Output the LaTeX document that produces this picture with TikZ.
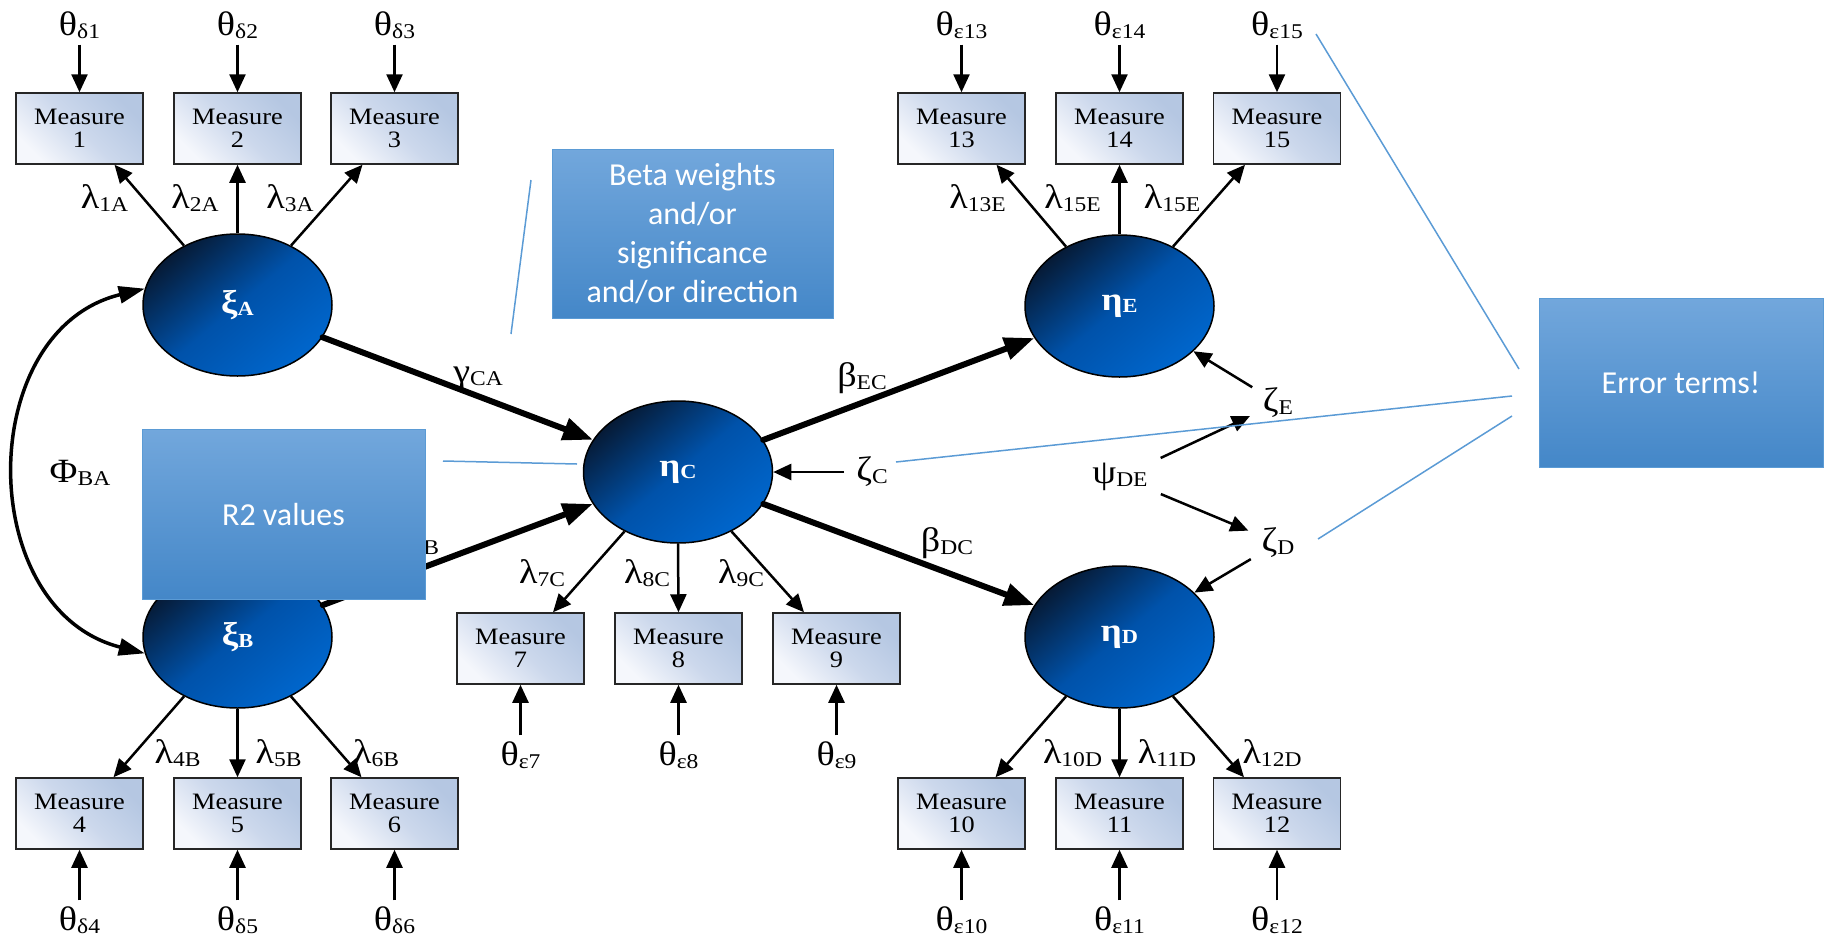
\documentclass[tikz,border=0pt]{standalone}
\usepackage{fontspec}
\setmainfont{Liberation Serif}[FakeStretch=1.12]
\newfontfamily\callfont{Carlito}
\usetikzlibrary{shapes.geometric,arrows.meta}

\definecolor{ellDark}{HTML}{061A35}
\definecolor{ellMid}{HTML}{0052AA}
\definecolor{ellBlue}{HTML}{0066CC}
\definecolor{boxTop}{HTML}{B5C7E2}
\definecolor{boxMid}{HTML}{CCD8EC}
\definecolor{boxBot}{HTML}{F5F7FC}
\definecolor{noteTop}{HTML}{72A7DC}
\definecolor{noteBot}{HTML}{4487C8}
\definecolor{noteEdge}{HTML}{5B9BD5}

% Greek symbol with a subscript, plain and bold
\newcommand\gsym[2]{{\fontsize{34}{34}\selectfont #1}\raisebox{-3pt}{\fontsize{21}{21}\selectfont #2}}
\newcommand\gbold[2]{{\fontsize{33}{33}\selectfont\bfseries #1}\raisebox{-2pt}{\fontsize{20}{20}\selectfont\bfseries #2}}

\begin{document}
\begin{tikzpicture}[x=1pt, y=-1pt,
  latent/.style={ellipse, draw=black, line width=1.5pt, minimum width=189pt,
    minimum height=142pt, inner sep=0pt, top color=ellDark, bottom color=ellBlue,
    middle color=ellMid, shading angle=40, text=white},
  measure/.style={rectangle, draw=black!85, line width=1.5pt, minimum width=127pt,
    minimum height=71pt, inner sep=0pt, top color=boxTop, bottom color=boxBot,
    middle color=boxMid, shading angle=-45, align=center,
    font=\fontsize{23.5}{23}\selectfont},
  lbl/.style={inner sep=2pt},
  ld/.style={-{Triangle[length=18pt,width=16pt]}, line width=2.5pt},
  structarrow/.style={-{Triangle[length=30pt,width=22pt]}, line width=6pt, line cap=round},
  covarrow/.style={{Triangle[length=26pt,width=17pt]}-{Triangle[length=26pt,width=17pt]}, line width=3.5pt},
  notebox/.style={rectangle, draw=noteEdge, line width=1pt, top color=noteTop,
    bottom color=noteBot, text=white, font=\callfont\fontsize{32}{39}\selectfont,
    align=center, inner sep=0pt},
  pointer/.style={draw=noteEdge, line width=1.5pt}
]
\useasboundingbox (0,0) rectangle (1824,938);

% latent variables
\node[latent] (xiA)  at (237.5,305) {\gbold{ξ}{A}};
\node[latent] (xiB)  at (237.5,637) {\gbold{ξ}{B}};
\node[latent] (etaC) at (678,472)   {\gbold{η}{C}};
\node[latent] (etaE) at (1119.5,306) {\gbold{η}{E}};
\node[latent] (etaD) at (1119.5,637) {\gbold{η}{D}};

% observed measures
\node[measure] (m1)  at (79.5,128.5)  {Measure\\1};
\node[measure] (m2)  at (237.5,128.5) {Measure\\2};
\node[measure] (m3)  at (394.5,128.5) {Measure\\3};
\node[measure] (m4)  at (79.5,813.5)  {Measure\\4};
\node[measure] (m5)  at (237.5,813.5) {Measure\\5};
\node[measure] (m6)  at (394.5,813.5) {Measure\\6};
\node[measure] (m7)  at (520.5,648.5) {Measure\\7};
\node[measure] (m8)  at (678.5,648.5) {Measure\\8};
\node[measure] (m9)  at (836.5,648.5) {Measure\\9};
\node[measure] (m10) at (961.5,813.5) {Measure\\10};
\node[measure] (m11) at (1119.5,813.5) {Measure\\11};
\node[measure] (m12) at (1277,813.5)  {Measure\\12};
\node[measure] (m13) at (961.5,128.5) {Measure\\13};
\node[measure] (m14) at (1119.5,128.5) {Measure\\14};
\node[measure] (m15) at (1277,128.5)  {Measure\\15};

% measurement error terms
\node[lbl] (t1)  at (79.5,25)   {\gsym{θ}{δ1}};
\node[lbl] (t2)  at (237.5,25)  {\gsym{θ}{δ2}};
\node[lbl] (t3)  at (394.5,25)  {\gsym{θ}{δ3}};
\node[lbl] (t4)  at (79.5,920)  {\gsym{θ}{δ4}};
\node[lbl] (t5)  at (237.5,920) {\gsym{θ}{δ5}};
\node[lbl] (t6)  at (394.5,920) {\gsym{θ}{δ6}};
\node[lbl] (t7)  at (520.5,755) {\gsym{θ}{ε7}};
\node[lbl] (t8)  at (678.5,755) {\gsym{θ}{ε8}};
\node[lbl] (t9)  at (836.5,755) {\gsym{θ}{ε9}};
\node[lbl] (t10) at (961.5,920) {\gsym{θ}{ε10}};
\node[lbl] (t11) at (1119.5,920) {\gsym{θ}{ε11}};
\node[lbl] (t12) at (1277,920)  {\gsym{θ}{ε12}};
\node[lbl] (t13) at (961.5,25)  {\gsym{θ}{ε13}};
\node[lbl] (t14) at (1119.5,25) {\gsym{θ}{ε14}};
\node[lbl] (t15) at (1277,25)   {\gsym{θ}{ε15}};

\foreach \i in {1,2,3,13,14,15} \draw[ld, shorten <=4pt] (t\i) -- (m\i);
\foreach \i in {4,5,6,7,8,9,10,11,12} \draw[ld, shorten <=4pt] (t\i) -- (m\i);

% loadings
\draw[ld] (xiA.132) -- ([xshift=35pt]m1.south);
\draw[ld] (xiA.90)  -- (m2.south);
\draw[ld] (xiA.48)  -- ([xshift=-32pt]m3.south);
\draw[ld] (xiB.228) -- ([xshift=34pt]m4.north);
\draw[ld] (xiB.270) -- (m5.north);
\draw[ld] (xiB.312) -- ([xshift=-33pt]m6.north);
\draw[ld] (etaC.228) -- ([xshift=32.5pt]m7.north);
\draw[ld] (etaC.270) -- (m8.north);
\draw[ld] (etaC.312) -- ([xshift=-32.5pt]m9.north);
\draw[ld] (etaD.228) -- ([xshift=34pt]m10.north);
\draw[ld] (etaD.270) -- (m11.north);
\draw[ld] (etaD.312) -- ([xshift=-33pt]m12.north);
\draw[ld] (etaE.132) -- ([xshift=35pt]m13.south);
\draw[ld] (etaE.90)  -- (m14.south);
\draw[ld] (etaE.48)  -- ([xshift=-32pt]m15.south);

\node[lbl] (l1)  at (104.5,198) {\gsym{λ}{1A}};
\node[lbl] (l2)  at (195,198)   {\gsym{λ}{2A}};
\node[lbl] (l3)  at (290,198)   {\gsym{λ}{3A}};
\node[lbl] (l4)  at (177.5,753) {\gsym{λ}{4B}};
\node[lbl] (l5)  at (278.5,753) {\gsym{λ}{5B}};
\node[lbl] (l6)  at (376,753)   {\gsym{λ}{6B}};
\node[lbl] (l7)  at (542,573)   {\gsym{λ}{7C}};
\node[lbl] (l8)  at (647,573)   {\gsym{λ}{8C}};
\node[lbl] (l9)  at (741,573)   {\gsym{λ}{9C}};
\node[lbl] (l10) at (1072.5,753) {\gsym{λ}{10D}};
\node[lbl] (l11) at (1167,753)  {\gsym{λ}{11D}};
\node[lbl] (l12) at (1272,753)  {\gsym{λ}{12D}};
\node[lbl] (l13) at (977.5,198) {\gsym{λ}{13E}};
\node[lbl] (l14) at (1072.5,198) {\gsym{λ}{15E}};
\node[lbl] (l15) at (1172,198)  {\gsym{λ}{15E}};

% structural paths
\draw[structarrow] (xiA) -- (etaC);
\draw[structarrow] (xiB) -- (etaC);
\draw[structarrow] (etaC) -- (etaE);
\draw[structarrow] (etaC) -- (etaD);

\node[lbl] (gCA) at (478,378) {\gsym{γ}{CA}};
\node[lbl] (gCB) at (415,547) {\gsym{γ}{CB}};
\node[lbl] (bEC) at (862,378) {\gsym{β}{EC}};
\node[lbl] (bDC) at (947,543) {\gsym{β}{DC}};

% covariance between exogenous factors
\draw[covarrow] (xiB.190) .. controls (-26,610) and (-26,330) .. (xiA.170);
\node[lbl] (phi) at (80,473) {\gsym{Φ}{BA}};

% disturbances
\node[lbl] (zC)  at (872,472)  {\gsym{ζ}{C}};
\node[lbl] (zE)  at (1278,403) {\gsym{ζ}{E}};
\node[lbl] (zD)  at (1278,543) {\gsym{ζ}{D}};
\node[lbl] (psi) at (1120,477) {\gsym{ψ}{DE}};
\draw[ld, shorten <=10pt] (zC) -- (etaC);
\draw[ld, shorten <=10pt] (zE) -- (etaE);
\draw[ld, shorten <=10pt] (zD) -- (etaD);
\draw[ld, shorten <=12pt, shorten >=12pt] (psi) -- (zE);
\draw[ld, shorten <=12pt, shorten >=12pt] (psi) -- (zD);

% annotation boxes and their pointer lines
\coordinate (pb1) at (531,180);
\coordinate (pb2) at (511,334);
\coordinate (pr1) at (443,461);
\coordinate (pr2) at (577,464);
\coordinate (pe1a) at (1316,34);
\coordinate (pe1b) at (1519,369);
\coordinate (pe2a) at (896,462);
\coordinate (pe2b) at (1512,396);
\coordinate (pe3a) at (1318,539);
\coordinate (pe3b) at (1512,416);
\draw[pointer] (pb1) -- (pb2);
\draw[pointer] (pr1) -- (pr2);
\draw[pointer] (pe1a) -- (pe1b);
\draw[pointer] (pe2a) -- (pe2b);
\draw[pointer] (pe3a) -- (pe3b);

\node[notebox, minimum width=281pt, minimum height=169pt] (beta) at (692.5,233.5)
  {Beta weights\\and/or\\significance\\and/or direction};
\node[notebox, minimum width=283pt, minimum height=170pt] (rsq) at (283.5,514) {R2 values};
\node[notebox, minimum width=284pt, minimum height=169pt] (err) at (1681,382.5) {Error terms!};
\end{tikzpicture}
\end{document}
